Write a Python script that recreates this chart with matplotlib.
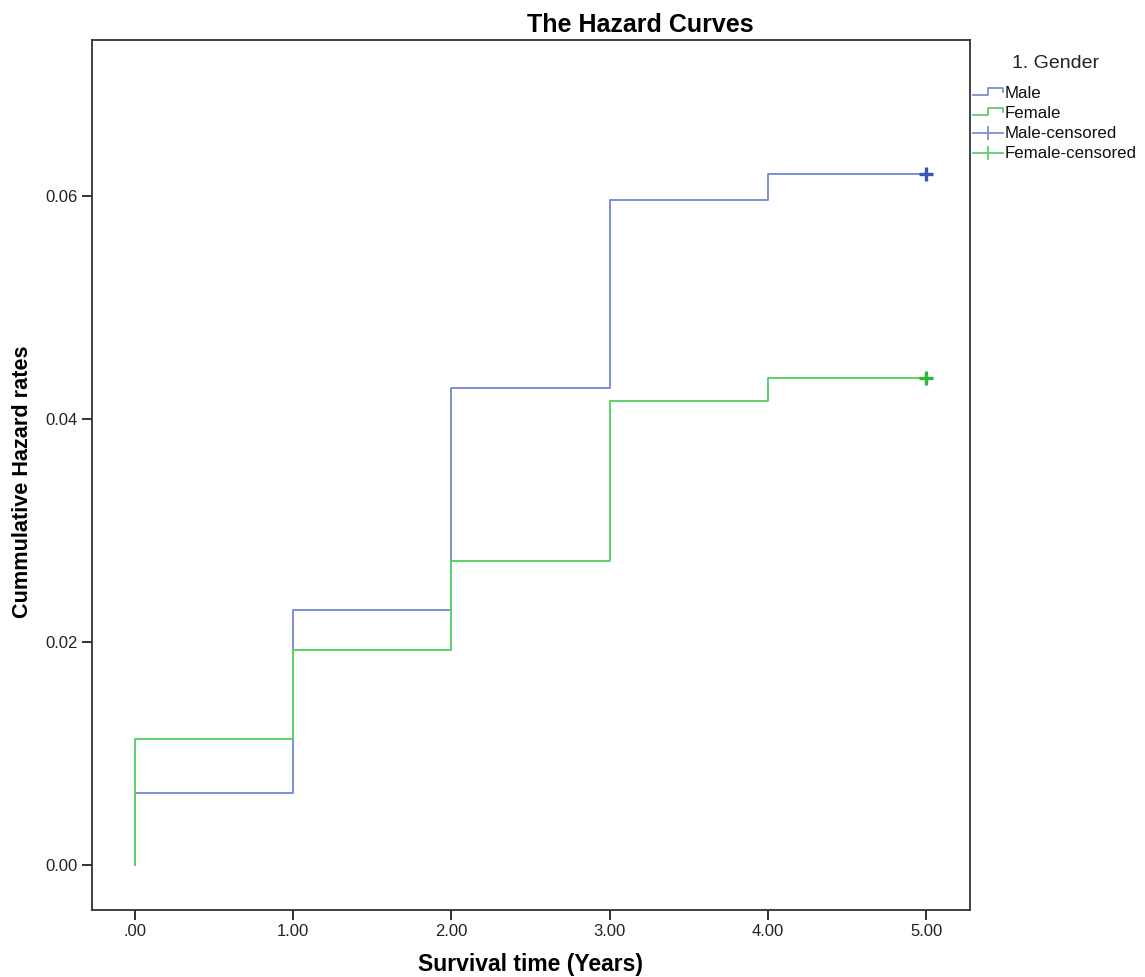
import matplotlib
matplotlib.use("Agg")
import matplotlib.pyplot as plt
from matplotlib.lines import Line2D

plt.rcParams['font.family'] = ['Liberation Sans', 'DejaVu Sans']

times = [0, 0, 1, 2, 3, 4, 5]
male = [0.0, 0.0065, 0.0229, 0.0428, 0.0597, 0.0620, 0.0620]
female = [0.0, 0.0113, 0.0193, 0.0273, 0.0416, 0.0437, 0.0437]
censor_time = 5
xticks = [0, 1, 2, 3, 4, 5]
xticklabels = ['.00', '1.00', '2.00', '3.00', '4.00', '5.00']
yticks = [0.0, 0.02, 0.04, 0.06]
yticklabels = ['0.00', '0.02', '0.04', '0.06']

male_line = '#7b8fd3'
male_mark = '#3b55b4'
female_line = '#5fcf6a'
female_mark = '#2fb53e'

fig = plt.figure(figsize=(11.45, 9.77), dpi=100)
ax = fig.add_axes([92/1145, 1-910/977, (970-92)/1145, (910-40)/977])

ax.step(times, male, where='post', color=male_line, lw=1.4)
ax.step(times, female, where='post', color=female_line, lw=1.4)
ax.plot([censor_time], [male[-1]], marker='+', ms=10, mew=2.4, color=male_mark, ls='none')
ax.plot([censor_time], [female[-1]], marker='+', ms=10, mew=2.4, color=female_mark, ls='none')

ax.set_xlim(-0.272, 5.278)
ax.set_ylim(-0.004, 0.074)
ax.set_xticks(xticks)
ax.set_xticklabels(xticklabels)
ax.set_yticks(yticks)
ax.set_yticklabels(yticklabels)
ax.tick_params(direction='out', length=7, width=1.3, labelsize=12, colors='#222222', pad=3)
for s in ax.spines.values():
    s.set_linewidth(1.3)
    s.set_color('#333333')

def fx(px):
    return px / 1145
def fy(py):
    return 1 - py / 977

fig.text(fx(640), fy(25), 'The Hazard Curves', fontsize=18, fontweight='bold', ha='center', va='center')
fig.text(fx(531), fy(965), 'Survival time (Years)', fontsize=16.5, fontweight='bold', ha='center', va='center')
fig.text(fx(23), fy(482), 'Cummulative Hazard rates', fontsize=15.6, fontweight='bold',
         ha='center', va='center', rotation=90)

# Legend drawn manually in figure pixel coordinates
fig.text(fx(1056), fy(63), '1. Gender', fontsize=14, ha='center', va='center', color='#222222')
entries = [('Male', 'step', male_line, 93),
           ('Female', 'step', female_line, 113),
           ('Male-censored', 'cross', male_line, 133),
           ('Female-censored', 'cross', female_line, 153)]
for label, kind, col, y in entries:
    if kind == 'step':
        xs = [973, 988, 988, 1003, 1003]
        ys = [y + 2, y + 2, y - 5, y - 5, y - 1]
        fig.add_artist(Line2D([fx(v) for v in xs], [fy(v) for v in ys], color=col, lw=1.3))
    else:
        fig.add_artist(Line2D([fx(973), fx(1003)], [fy(y), fy(y)], color=col, lw=1.3))
        fig.add_artist(Line2D([fx(988), fx(988)], [fy(y - 6), fy(y + 6)], color=col, lw=1.3))
    fig.text(fx(1005), fy(y), label, fontsize=12.2, ha='left', va='center', color='#111111')

fig.savefig('out.png', dpi=100)
